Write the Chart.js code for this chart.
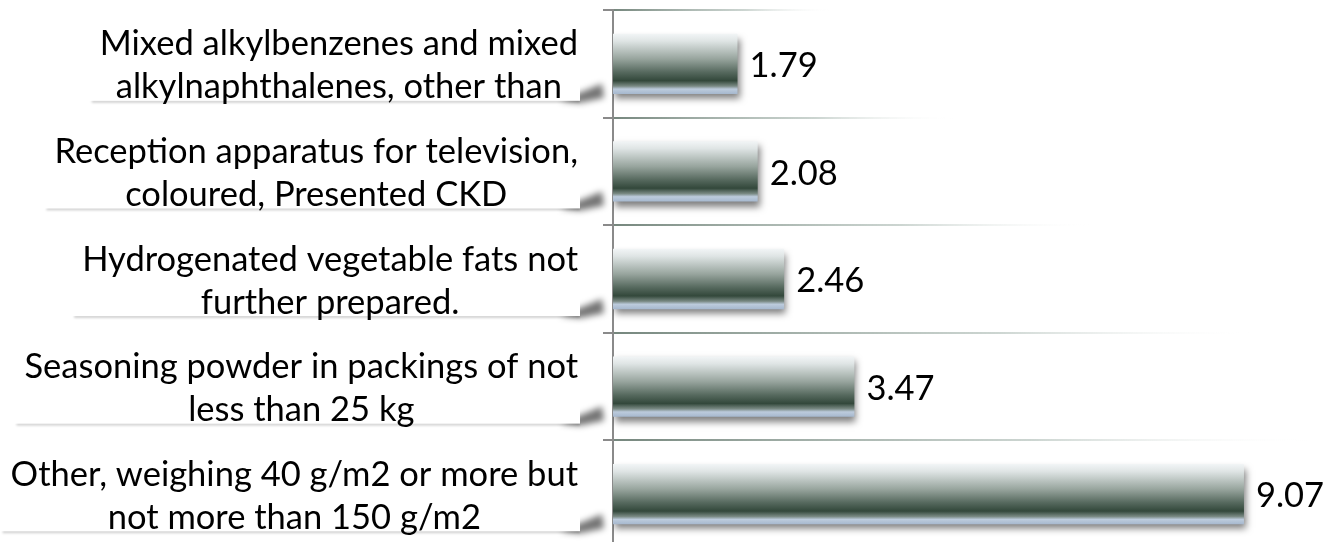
<!DOCTYPE html>
<html>
<head>
<meta charset="utf-8">
<script src="https://cdn.jsdelivr.net/npm/chart.js@4.4.1/dist/chart.umd.min.js"></script>
<style>
  html, body { margin: 0; padding: 0; background: #fff; overflow: hidden; }
  #wrap { position: relative; width: 1333px; height: 548px; }
</style>
</head>
<body>
<div id="wrap"><canvas id="chart"></canvas></div>
<script>
const categories = [
  ["Mixed alkylbenzenes and mixed", "alkylnaphthalenes, other than"],
  ["Reception apparatus for television,", "coloured, Presented CKD"],
  ["Hydrogenated vegetable fats not", "further prepared."],
  ["Seasoning powder in packings of not", "less than 25 kg"],
  ["Other, weighing 40 g/m2 or more but", "not more than 150 g/m2"],
];
const shares = [1.79, 2.08, 2.46, 3.47, 9.07];
const valueLabels = ["1.79", "2.08", "2.46", "3.47", "9.07"];
const gridFade = [220, 340, 480, 640, 700, 700];

const labelFont = "34.5px Lato, 'Open Sans', sans-serif";
const barPct = 0.56;

// white label boxes with a curled shadow at the lower right
const labelBoxes = {
  id: "labelBoxes",
  afterDraw(chart) {
    const { ctx } = chart;
    const y = chart.scales.y;
    const right = 580;
    ctx.save();
    ctx.font = labelFont;
    ctx.textBaseline = "middle";
    ctx.textAlign = "center";
    categories.forEach((lines, i) => {
      const cy = y.getPixelForValue(i) + 2;
      const blockW = Math.max(...lines.map((l) => ctx.measureText(l).width));
      const left = right - blockW - 12;
      const top = cy - 42;
      const bottom = cy + 35;

      ctx.save();
      ctx.filter = "blur(3px)";
      ctx.fillStyle = "rgba(0,0,0,0.55)";
      ctx.beginPath();
      ctx.moveTo(right - 20, bottom);
      ctx.lineTo(right + 22, bottom - 17);
      ctx.lineTo(right + 24, bottom - 3);
      ctx.lineTo(right, bottom + 2);
      ctx.closePath();
      ctx.fill();
      ctx.restore();

      ctx.save();
      ctx.filter = "blur(1px)";
      ctx.fillStyle = "rgba(0,0,0,0.18)";
      ctx.fillRect(left + 2, bottom - 1, right - left - 2, 3);
      ctx.restore();

      ctx.fillStyle = "#fff";
      ctx.fillRect(left, top, right - left, bottom - top);

      const mid = right - 2 - blockW / 2;
      ctx.fillStyle = "#000";
      ctx.fillText(lines[0], mid, cy - 21.5);
      ctx.fillText(lines[1], mid, cy + 21.5);
    });
    ctx.restore();
  },
};

// drop shadow under the bars, value labels after
const barStyle = {
  id: "barStyle",
  beforeDatasetsDraw(chart) {
    const { ctx } = chart;
    ctx.save();
    ctx.shadowColor = "rgba(0,0,0,0.5)";
    ctx.shadowBlur = 7;
    ctx.shadowOffsetX = 2;
    ctx.shadowOffsetY = 5;
  },
  afterDatasetsDraw(chart) {
    const { ctx } = chart;
    ctx.restore();
    const meta = chart.getDatasetMeta(0);
    ctx.save();
    ctx.font = labelFont;
    ctx.fillStyle = "#000";
    ctx.textBaseline = "middle";
    ctx.textAlign = "left";
    meta.data.forEach((bar, i) => {
      ctx.fillText(valueLabels[i], bar.x + 12, bar.y + 2);
    });
    ctx.restore();
  },
};

function barFill(context) {
  const chart = context.chart;
  const ys = chart.scales.y;
  if (!ys || !Number.isFinite(ys.height) || ys.height <= 0) return "#3b5245";
  const band = ys.height / categories.length;
  const cy = ys.getPixelForValue(context.dataIndex);
  const h = band * barPct;
  if (!Number.isFinite(cy)) return "#3b5245";
  const g = chart.ctx.createLinearGradient(0, cy - h / 2, 0, cy + h / 2);
  g.addColorStop(0, "#f2f5f6");
  g.addColorStop(0.12, "#dfe5e5");
  g.addColorStop(0.42, "#97a49d");
  g.addColorStop(0.64, "#56695e");
  g.addColorStop(0.78, "#33483b");
  g.addColorStop(0.87, "#7a8a84");
  g.addColorStop(0.92, "#bccbdc");
  g.addColorStop(1, "#a6b8ce");
  return g;
}

function gridColor(context) {
  const chart = context.chart;
  const area = chart.chartArea;
  if (!area || !Number.isFinite(area.left)) return "#8a9a92";
  const idx = Math.min(Math.max(context.index || 0, 0), gridFade.length - 1);
  const g = chart.ctx.createLinearGradient(area.left, 0, area.left + gridFade[idx], 0);
  g.addColorStop(0, "rgba(110,128,118,0.95)");
  g.addColorStop(0.6, "rgba(170,185,178,0.6)");
  g.addColorStop(1, "rgba(255,255,255,0)");
  return g;
}

new Chart(document.getElementById("chart"), {
  type: "bar",
  data: {
    labels: categories,
    datasets: [{
      data: shares,
      backgroundColor: barFill,
      borderWidth: 0,
      barPercentage: barPct,
      categoryPercentage: 1,
    }],
  },
  options: {
    indexAxis: "y",
    responsive: true,
    maintainAspectRatio: false,
    animation: false,
    layout: { padding: { top: 10, right: 0, bottom: 0, left: 0 } },
    plugins: {
      legend: { display: false },
      tooltip: { enabled: false },
    },
    scales: {
      x: {
        display: false,
        min: 0,
        max: 10.35,
      },
      y: {
        afterFit: (scale) => { scale.width = 613; },
        ticks: { display: false },
        border: { display: true, color: "#8a8a8a", width: 2 },
        grid: {
          offset: true,
          lineWidth: 2,
          tickLength: 10,
          tickColor: "#8a8a8a",
          color: gridColor,
        },
      },
    },
  },
  plugins: [barStyle, labelBoxes],
});
</script>
</body>
</html>
